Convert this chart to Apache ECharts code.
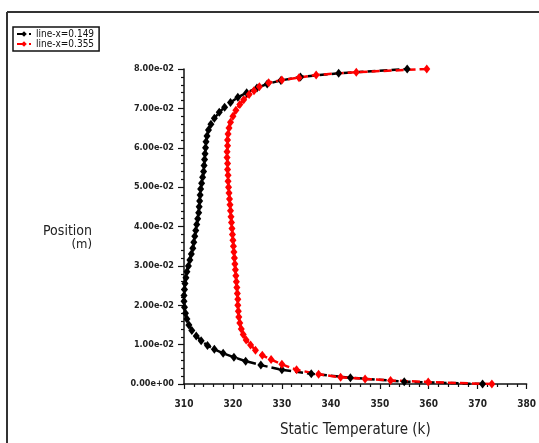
<!DOCTYPE html>
<html><head><meta charset="utf-8">
<script src="https://cdn.jsdelivr.net/npm/echarts@6/dist/echarts.min.js"></script>
<style>html,body{margin:0;padding:0;background:#fff}#c{width:539px;height:443px}</style>
</head><body><div id="c"></div>
<script>
const seriesNames = ['line-x=0.149', 'line-x=0.355'];
const xTicks = [310, 320, 330, 340, 350, 360, 370, 380];
const yTicks = [0, 0.01, 0.02, 0.03, 0.04, 0.05, 0.06, 0.07, 0.08];
// [Static Temperature (k), Position (m)]
const blackData = [
[371.0,0.0000],[355.0,0.0006],[344.0,0.0016],[336.0,0.0026],[330.0,0.0036],[325.7,0.0048],
[322.6,0.0058],[320.2,0.0068],[318.0,0.0078],[316.2,0.0088],[314.8,0.0098],[313.5,0.0110],
[312.5,0.0122],[311.6,0.0136],[311.0,0.0150],[310.6,0.0165],[310.3,0.0180],[310.1,0.0195],
[310.0,0.0210],[310.0,0.0225],[310.1,0.0240],[310.2,0.0255],[310.4,0.0270],[310.6,0.0285],
[310.9,0.0300],[311.2,0.0315],[311.5,0.0330],[311.8,0.0345],[312.0,0.0360],[312.2,0.0375],
[312.4,0.0390],[312.6,0.0405],[312.8,0.0420],[313.0,0.0435],[313.1,0.0450],[313.2,0.0465],
[313.3,0.0480],[313.4,0.0495],[313.6,0.0510],[313.8,0.0525],[314.0,0.0540],[314.1,0.0555],
[314.2,0.0570],[314.3,0.0585],[314.4,0.0600],[314.5,0.0615],[314.7,0.0630],[315.0,0.0645],
[315.5,0.0660],[316.2,0.0675],[317.2,0.0690],[318.3,0.0703],[319.5,0.0715],[321.0,0.0728],
[322.8,0.0740],[324.9,0.0752],[327.0,0.0762],[329.8,0.0771],[333.8,0.0780],[341.6,0.0789],
[355.6,0.0800]
];
const redData = [
[372.9,0.0000],[359.9,0.0005],[352.2,0.0009],[347.0,0.0013],[342.0,0.0017],[337.5,0.0025],
[333.0,0.0036],[330.0,0.0050],[327.8,0.0062],[326.0,0.0073],[324.6,0.0086],[323.6,0.0099],
[322.7,0.0112],[322.1,0.0126],[321.7,0.0140],[321.4,0.0155],[321.2,0.0170],[321.1,0.0185],
[321.0,0.0200],[321.0,0.0215],[320.9,0.0230],[320.8,0.0245],[320.7,0.0260],[320.6,0.0275],
[320.5,0.0290],[320.4,0.0305],[320.3,0.0320],[320.2,0.0335],[320.1,0.0350],[320.0,0.0365],
[319.9,0.0380],[319.8,0.0395],[319.7,0.0410],[319.6,0.0425],[319.5,0.0440],[319.4,0.0455],
[319.3,0.0470],[319.2,0.0485],[319.1,0.0500],[319.0,0.0515],[319.0,0.0530],[318.9,0.0545],
[318.9,0.0560],[318.8,0.0575],[318.8,0.0590],[318.9,0.0605],[318.9,0.0620],[319.0,0.0635],
[319.2,0.0650],[319.5,0.0665],[320.0,0.0680],[320.6,0.0695],[321.4,0.0710],[322.2,0.0722],
[323.3,0.0735],[324.3,0.0745],[325.4,0.0755],[327.3,0.0765],[330.0,0.0772],[333.5,0.0778],
[337.0,0.0785],[345.2,0.0792],[359.6,0.0800]
];
const FONT = "'DejaVu Sans Condensed','Liberation Sans Narrow','Roboto Condensed',sans-serif";
function fmtExp(v){
  const s = Number(v).toExponential(2);
  const m = s.match(/^(.*)e([+-])(\d+)$/);
  return m[1] + 'e' + m[2] + (m[3].length < 2 ? '0' + m[3] : m[3]);
}
const chart = echarts.init(document.getElementById('c'), null, {renderer:'canvas'});
chart.setOption({
  animation:false,
  backgroundColor:'#fff',
  grid:{left:184, right:11, top:69, bottom:55},
  legend:{
    left:13, top:27, orient:'vertical', itemGap:0, itemWidth:14, itemHeight:7,
    padding:[2,5,2,3], borderColor:'#111', borderWidth:1.5,
    textStyle:{fontFamily:FONT, fontSize:10, color:'#111', lineHeight:8},
    data: seriesNames
  },
  xAxis:{
    type:'value', min:xTicks[0], max:xTicks[xTicks.length-1], interval:10,
    name:'Static Temperature (k)', nameLocation:'middle', nameGap:39,
    nameTextStyle:{fontFamily:FONT, fontSize:15, color:'#222'},
    axisLine:{show:true, onZero:false, lineStyle:{color:'#111', width:1.5}},
    axisTick:{show:true, length:5, lineStyle:{color:'#111', width:1.2}},
    minorTick:{show:true, splitNumber:5, length:3, lineStyle:{color:'#111', width:1.2}},
    axisLabel:{fontFamily:FONT, fontSize:10, color:'#222', margin:15, fontWeight:'bold'},
    splitLine:{show:false}
  },
  yAxis:{
    type:'value', min:yTicks[0], max:yTicks[yTicks.length-1], interval:0.01,
    name:'{a|Position}\n{b|(m)}', nameLocation:'middle', nameRotate:0, nameGap:92,
    nameTextStyle:{fontFamily:FONT, color:'#222', padding:[22,0,0,0], rich:{
      a:{fontFamily:FONT, fontSize:14, color:'#222', lineHeight:15},
      b:{fontFamily:FONT, fontSize:13, color:'#222', lineHeight:13, padding:[0,0,0,22]}
    }},
    axisLine:{show:true, onZero:false, lineStyle:{color:'#111', width:1.5}},
    axisTick:{show:true, length:6, lineStyle:{color:'#111', width:1.2}},
    minorTick:{show:true, splitNumber:5, length:3, lineStyle:{color:'#111', width:1.2}},
    axisLabel:{fontFamily:FONT, fontSize:9, color:'#222', margin:10, fontWeight:'bold', formatter:fmtExp},
    splitLine:{show:false}
  },
  graphic:[
    {type:'line', shape:{x1:7,y1:12,x2:539,y2:12}, style:{stroke:'#333', lineWidth:2}},
    {type:'line', shape:{x1:7,y1:12,x2:7,y2:443}, style:{stroke:'#333', lineWidth:2}}
  ],
  series:[
    {name:seriesNames[0], type:'line', data:blackData, color:'#000',
     symbol:'diamond', symbolSize:[7,9], showAllSymbol:true,
     lineStyle:{color:'#000', width:2.5, type:[8,4]}, itemStyle:{color:'#000'}},
    {name:seriesNames[1], type:'line', data:redData, color:'#ff0000',
     symbol:'diamond', symbolSize:[7,9], showAllSymbol:true,
     lineStyle:{color:'#ff0000', width:2.5, type:[8,4]}, itemStyle:{color:'#ff0000'}}
  ]
});
</script></body></html>
